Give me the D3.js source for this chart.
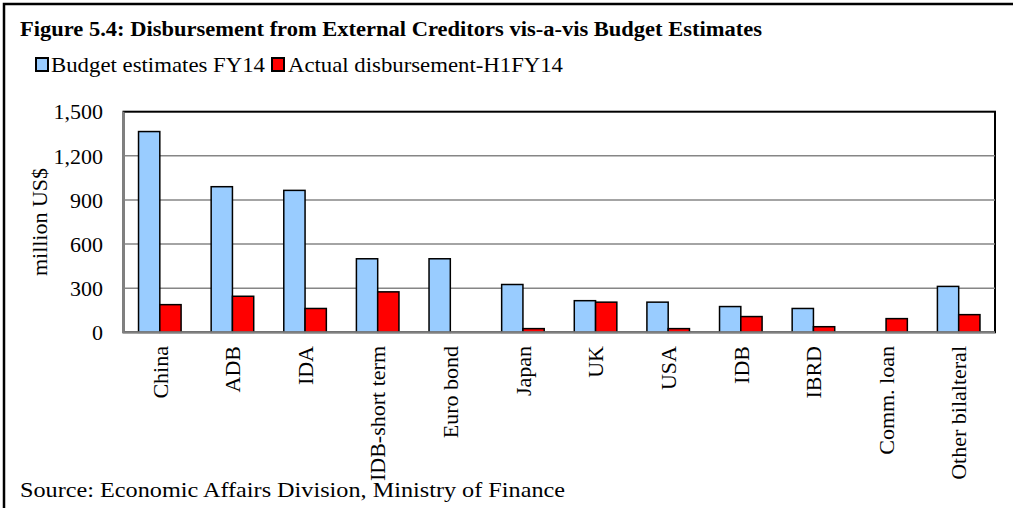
<!DOCTYPE html>
<html>
<head>
  <meta charset="utf-8">
  <title>Figure 5.4</title>
  <script src="https://d3js.org/d3.v7.min.js"></script>
  <style>
    body { margin: 0; background: #fff; }
    svg text { font-family: "Liberation Serif", "Times New Roman", serif; fill: #000; }
  </style>
</head>
<body>
  <svg width="1013" height="508"></svg>
  <script>
    // values (million US$)
    var categories = ["China", "ADB", "IDA", "IDB-short term", "Euro bond", "Japan",
                      "UK", "USA", "IDB", "IBRD", "Comm. loan", "Other bilalteral"];
    var budget = [1365, 990, 965, 500, 500, 325, 215, 205, 175, 162, 0, 312];
    var actual = [188, 245, 162, 275, 0, 25, 205, 25, 107, 38, 93, 120];
    var seriesNames = ["Budget estimates FY14", "Actual disbursement-H1FY14"];
    var seriesColors = ["#99ccff", "#ff0000"];
    var yTicks = [0, 300, 600, 900, 1200, 1500];

    var svg = d3.select("svg");

    // outer frame (runs off the right and bottom edge)
    svg.append("rect")
      .attr("x", 4).attr("y", 4)
      .attr("width", 1100).attr("height", 600)
      .attr("fill", "none").attr("stroke", "#000").attr("stroke-width", 2.5);

    svg.append("text")
      .attr("x", 20).attr("y", 36)
      .attr("font-size", 20).attr("font-weight", "bold")
      .attr("textLength", 742).attr("lengthAdjust", "spacingAndGlyphs")
      .text("Figure 5.4: Disbursement from External Creditors vis-a-vis Budget Estimates");

    // legend
    var legendX = [[36, 51, 214], [272, 288, 275]];
    seriesNames.forEach(function(name, i) {
      svg.append("rect")
        .attr("x", legendX[i][0]).attr("y", 58)
        .attr("width", 12).attr("height", 13)
        .attr("fill", seriesColors[i]).attr("stroke", "#000").attr("stroke-width", 2);
      svg.append("text")
        .attr("x", legendX[i][1]).attr("y", 72)
        .attr("font-size", 21)
        .attr("textLength", legendX[i][2]).attr("lengthAdjust", "spacingAndGlyphs")
        .text(name);
    });

    var plotLeft = 123.5, plotRight = 995, plotTop = 111.7, plotBottom = 332.3;

    var x = d3.scaleBand().domain(categories).range([plotLeft, plotRight])
      .paddingInner(0.414).paddingOuter(0.207);
    var xs = d3.scaleBand().domain([0, 1]).range([0, x.bandwidth()]);
    var y = d3.scaleLinear().domain([0, 1500]).range([plotBottom, plotTop]);

    // plot area border
    svg.append("rect")
      .attr("x", plotLeft).attr("y", plotTop)
      .attr("width", plotRight - plotLeft).attr("height", plotBottom - plotTop)
      .attr("fill", "none").attr("stroke", "#000").attr("stroke-width", 2);

    // gridlines
    svg.append("g").selectAll("line")
      .data(yTicks.filter(function(d) { return d > 0 && d < 1500; }))
      .enter().append("line")
        .attr("x1", plotLeft).attr("x2", plotRight)
        .attr("y1", function(d) { return y(d); })
        .attr("y2", function(d) { return y(d); })
        .attr("stroke", "#868686").attr("stroke-width", 1.5);

    // bars
    var rows = categories.map(function(c, i) { return { cat: c, vals: [budget[i], actual[i]] }; });
    var groups = svg.append("g").selectAll("g")
      .data(rows).enter().append("g")
        .attr("transform", function(d) { return "translate(" + x(d.cat) + ",0)"; });
    groups.selectAll("rect")
      .data(function(d) {
        return d.vals.map(function(v, k) { return { k: k, v: v }; })
          .filter(function(e) { return e.v > 0; });
      })
      .enter().append("rect")
        .attr("x", function(d) { return xs(d.k); })
        .attr("width", xs.bandwidth())
        .attr("y", function(d) { return y(d.v); })
        .attr("height", function(d) { return y(0) - y(d.v); })
        .attr("fill", function(d) { return seriesColors[d.k]; })
        .attr("stroke", "#000").attr("stroke-width", 1.5);

    // axis lines (grey)
    svg.append("line")
      .attr("x1", plotLeft).attr("x2", plotLeft).attr("y1", plotTop).attr("y2", plotBottom)
      .attr("stroke", "#808080").attr("stroke-width", 2);
    svg.append("line")
      .attr("x1", plotLeft - 1).attr("x2", plotRight).attr("y1", plotBottom).attr("y2", plotBottom)
      .attr("stroke", "#808080").attr("stroke-width", 2);

    // y tick labels
    var fmt = d3.format(",");
    svg.append("g").selectAll("text")
      .data(yTicks).enter().append("text")
        .attr("x", 103).attr("y", function(d) { return y(d); })
        .attr("dy", "0.35em")
        .attr("text-anchor", "end")
        .attr("font-size", 22)
        .text(function(d) { return fmt(d); });

    svg.append("text")
      .attr("transform", "translate(47," + ((plotTop + plotBottom) / 2) + ") rotate(-90)")
      .attr("text-anchor", "middle")
      .attr("font-size", 22)
      .text("million US$");

    // x labels, rotated
    svg.append("g").selectAll("text")
      .data(categories).enter().append("text")
        .attr("transform", function(d) {
          return "translate(" + (x(d) + x.bandwidth() / 2) + ",346) rotate(-90)";
        })
        .attr("dy", "0.35em")
        .attr("text-anchor", "end")
        .attr("font-size", 22)
        .text(function(d) { return d; });

    svg.append("text")
      .attr("x", 20).attr("y", 497)
      .attr("font-size", 22)
      .attr("textLength", 545).attr("lengthAdjust", "spacingAndGlyphs")
      .text("Source: Economic Affairs Division, Ministry of Finance");
  </script>
</body>
</html>
